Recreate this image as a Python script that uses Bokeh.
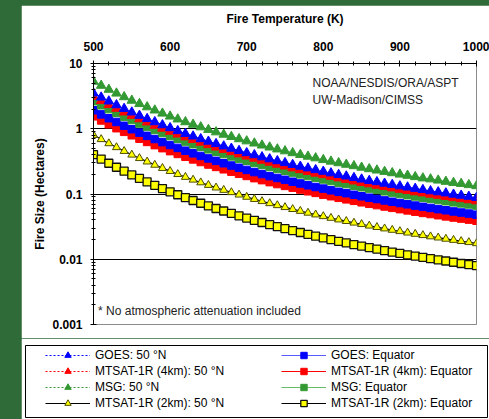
from bokeh.plotting import figure
from bokeh.layouts import row, column
from bokeh.models import (Range1d, SingleIntervalTicker, Legend, LegendItem, Label,
                          CustomJSTickFormatter, Spacer)
from bokeh.embed import file_html
from bokeh.resources import INLINE

# Fire temperature (K)
temps = list(range(500, 1001, 10))

# Minimum detectable fire size (hectares)
goes_50n = [3.50, 3.03, 2.64, 2.31, 2.03, 1.79, 1.59, 1.42, 1.27, 1.14,
            1.03, 0.928, 0.840, 0.767, 0.698, 0.639, 0.587, 0.540, 0.498, 0.460,
            0.426, 0.396, 0.368, 0.343, 0.321, 0.300, 0.281, 0.264, 0.249, 0.234,
            0.221, 0.209, 0.197, 0.187, 0.177, 0.168, 0.160, 0.153, 0.145, 0.139,
            0.132, 0.127, 0.121, 0.116, 0.111, 0.107, 0.103, 0.0984, 0.0949, 0.0914,
            0.0879]
mtsat4_50n = [3.10, 2.68, 2.33, 2.04, 1.79, 1.59, 1.41, 1.26, 1.12, 1.01,
              0.908, 0.822, 0.744, 0.679, 0.618, 0.566, 0.520, 0.478, 0.441, 0.408,
              0.378, 0.351, 0.326, 0.304, 0.284, 0.266, 0.249, 0.234, 0.220, 0.207,
              0.196, 0.185, 0.175, 0.166, 0.157, 0.149, 0.142, 0.135, 0.129, 0.123,
              0.117, 0.112, 0.107, 0.103, 0.0986, 0.0946, 0.0908, 0.0871, 0.0840, 0.0809,
              0.0778]
msg_50n = [5.30, 4.59, 3.99, 3.49, 3.07, 2.71, 2.41, 2.15, 1.92, 1.72,
           1.55, 1.40, 1.27, 1.16, 1.06, 0.968, 0.888, 0.817, 0.754, 0.697,
           0.646, 0.599, 0.558, 0.520, 0.486, 0.455, 0.426, 0.400, 0.376, 0.355,
           0.334, 0.316, 0.299, 0.283, 0.269, 0.255, 0.242, 0.231, 0.220, 0.210,
           0.200, 0.192, 0.183, 0.175, 0.169, 0.162, 0.155, 0.149, 0.144, 0.138,
           0.133]
mtsat2_50n = [0.800, 0.689, 0.596, 0.519, 0.454, 0.399, 0.353, 0.313, 0.279, 0.249,
              0.224, 0.201, 0.182, 0.165, 0.150, 0.137, 0.125, 0.115, 0.106, 0.0974,
              0.0901, 0.0834, 0.0774, 0.0719, 0.0670, 0.0626, 0.0585, 0.0548, 0.0514, 0.0483,
              0.0455, 0.0429, 0.0405, 0.0383, 0.0362, 0.0344, 0.0326, 0.0310, 0.0295, 0.0281,
              0.0268, 0.0255, 0.0244, 0.0233, 0.0223, 0.0214, 0.0205, 0.0197, 0.0189, 0.0182,
              0.0175]
goes_eq = [1.92, 1.66, 1.45, 1.27, 1.11, 0.983, 0.872, 0.778, 0.695, 0.624,
           0.563, 0.509, 0.461, 0.420, 0.383, 0.351, 0.322, 0.296, 0.273, 0.252,
           0.234, 0.217, 0.202, 0.188, 0.176, 0.165, 0.154, 0.145, 0.136, 0.128,
           0.121, 0.114, 0.108, 0.103, 0.0973, 0.0924, 0.0877, 0.0837, 0.0797, 0.0760,
           0.0726, 0.0695, 0.0664, 0.0636, 0.0611, 0.0586, 0.0563, 0.0540, 0.0520, 0.0501,
           0.0482]
mtsat4_eq = [1.55, 1.34, 1.17, 1.02, 0.897, 0.794, 0.704, 0.628, 0.561, 0.504,
             0.454, 0.411, 0.372, 0.339, 0.309, 0.283, 0.260, 0.239, 0.220, 0.204,
             0.189, 0.175, 0.163, 0.152, 0.142, 0.133, 0.125, 0.117, 0.110, 0.104,
             0.0978, 0.0924, 0.0874, 0.0828, 0.0786, 0.0746, 0.0708, 0.0676, 0.0643, 0.0614,
             0.0586, 0.0561, 0.0536, 0.0513, 0.0493, 0.0473, 0.0454, 0.0436, 0.0420, 0.0405,
             0.0389]
msg_eq = [2.65, 2.29, 2.00, 1.75, 1.53, 1.36, 1.20, 1.07, 0.959, 0.861,
          0.776, 0.702, 0.636, 0.580, 0.529, 0.484, 0.444, 0.409, 0.377, 0.348,
          0.323, 0.300, 0.279, 0.260, 0.243, 0.227, 0.213, 0.200, 0.188, 0.177,
          0.167, 0.158, 0.149, 0.142, 0.134, 0.127, 0.121, 0.116, 0.110, 0.105,
          0.100, 0.0959, 0.0917, 0.0877, 0.0843, 0.0808, 0.0776, 0.0745, 0.0718, 0.0692,
          0.0665]
mtsat2_eq = [0.400, 0.343, 0.296, 0.257, 0.224, 0.196, 0.173, 0.153, 0.136, 0.121,
             0.108, 0.0974, 0.0879, 0.0795, 0.0722, 0.0657, 0.0600, 0.0549, 0.0504, 0.0463,
             0.0427, 0.0395, 0.0366, 0.0340, 0.0316, 0.0294, 0.0275, 0.0257, 0.0241, 0.0226,
             0.0212, 0.0200, 0.0188, 0.0178, 0.0168, 0.0159, 0.0151, 0.0143, 0.0136, 0.0129,
             0.0123, 0.0117, 0.0112, 0.0107, 0.0102, 0.0098, 0.0094, 0.0090, 0.0086, 0.0083,
             0.0080]

FONT = "Liberation Sans"
BG = "#2f6b38"
BLUE, RED, GREEN, YELLOW = "#0000ff", "#ff0000", "#339933", "#ffff00"

# style for each series: (line colour, dash, marker, fill, edge, size, edge width)
styles = {
    "GOES: 50 °N": (BLUE, "2 2", "triangle", BLUE, BLUE, 9.5, 1.0),
    "MTSAT-1R (4km): 50 °N": (RED, "2 2", "triangle", RED, RED, 9.5, 1.0),
    "MSG: 50 °N": (GREEN, "2 2", "triangle", GREEN, GREEN, 9.5, 1.0),
    "MTSAT-1R (2km): 50 °N": ("black", "solid", "triangle", YELLOW, "#4d4d00", 8, 1.0),
    "GOES: Equator": ("#5a5aff", "solid", "square", BLUE, BLUE, 7.5, 1.0),
    "MTSAT-1R (4km): Equator": (RED, "solid", "square", RED, RED, 7.5, 1.0),
    "MSG: Equator": ("#66bb66", "solid", "square", GREEN, GREEN, 7.5, 1.0),
    "MTSAT-1R (2km): Equator": ("black", "solid", "square", YELLOW, "#111111", 8, 1.3),
}
data = {
    "GOES: 50 °N": goes_50n, "MTSAT-1R (4km): 50 °N": mtsat4_50n,
    "MSG: 50 °N": msg_50n, "MTSAT-1R (2km): 50 °N": mtsat2_50n,
    "GOES: Equator": goes_eq, "MTSAT-1R (4km): Equator": mtsat4_eq,
    "MSG: Equator": msg_eq, "MTSAT-1R (2km): Equator": mtsat2_eq,
}
draw_order = ["MTSAT-1R (2km): Equator", "MTSAT-1R (2km): 50 °N",
              "MTSAT-1R (4km): Equator", "GOES: Equator", "MSG: Equator",
              "MTSAT-1R (4km): 50 °N", "GOES: 50 °N", "MSG: 50 °N"]

# ---------------- main chart ----------------
p = figure(width=468, height=333, x_range=Range1d(500, 1000), y_range=Range1d(0.001, 10),
           y_axis_type="log", x_axis_location="above",
           output_backend="svg", toolbar_location=None,
           min_border_left=72, min_border_right=13, min_border_top=58, min_border_bottom=14)
p.frame_align = False
p.background_fill_color = "white"
p.border_fill_color = "white"
p.outline_line_color = "#8c8c8c"
p.outline_line_width = 1

xa = p.xaxis[0]
xa.ticker = SingleIntervalTicker(interval=100, num_minor_ticks=5)
xa.axis_label = "Fire Temperature (K)"
ya = p.yaxis[0]
ya.axis_label = "Fire Size (Hectares)"
ya.formatter = CustomJSTickFormatter(code="return parseFloat(tick.toPrecision(3)).toString();")
for ax in (xa, ya):
    ax.axis_line_color = "black"
    ax.axis_line_width = 1
    ax.major_tick_in = 3
    ax.major_tick_out = 3
    ax.minor_tick_in = 2
    ax.minor_tick_out = 2
    ax.major_tick_line_color = "black"
    ax.minor_tick_line_color = "black"
    ax.major_label_text_font = FONT
    ax.major_label_text_font_style = "bold"
    ax.major_label_text_font_size = "12px"
    ax.major_label_text_color = "black"
    ax.axis_label_text_font = FONT
    ax.axis_label_text_font_style = "bold"
    ax.axis_label_text_font_size = "12px"
    ax.axis_label_text_color = "black"
xa.major_label_standoff = 10
xa.axis_label_standoff = 13
ya.major_label_standoff = 8
ya.axis_label_standoff = 2

p.xgrid.visible = False
p.ygrid.grid_line_color = "black"
p.ygrid.grid_line_width = 1

for name in draw_order:
    lc, dash, mk, fc, ec, sz, lw = styles[name]
    vals = data[name]
    p.line(temps, vals, line_color=lc, line_width=1.2, line_dash=dash)
    p.scatter(temps, vals, marker=mk, size=sz, fill_color=fc, line_color=ec, line_width=lw)

for txt, yv in (("NOAA/NESDIS/ORA/ASPT", 5.0), ("UW-Madison/CIMSS", 2.78)):
    p.add_layout(Label(x=786, y=yv, text=txt, text_baseline="middle",
                       text_font=FONT, text_font_size="12px", text_color="#222222"))
p.add_layout(Label(x=506, y=0.0016, text="* No atmospheric attenuation included",
                   text_baseline="middle", text_font=FONT, text_font_size="12px",
                   text_color="#222222"))

# ---------------- legend panel ----------------
lp = figure(width=468, height=81, x_range=Range1d(0, 1), y_range=Range1d(0, 1),
            x_axis_type=None, y_axis_type=None,
            output_backend="svg", toolbar_location=None,
            min_border_left=4, min_border_right=2, min_border_top=7, min_border_bottom=2)
lp.frame_align = False
lp.xgrid.visible = False
lp.ygrid.visible = False
lp.background_fill_color = "white"
lp.border_fill_color = "white"
lp.outline_line_color = "black"
lp.outline_line_width = 1

def legend_items(names):
    items = []
    for name in names:
        lc, dash, mk, fc, ec, sz, lw = styles[name]
        # sample renderers kept outside the visible range: only their legend glyphs show
        rl = lp.line([-5, -4], [-5, -4], line_color=lc, line_width=1.2, line_dash=dash)
        rm = lp.scatter([-5], [-5], marker=mk, size=sz, fill_color=fc, line_color=ec,
                        line_width=lw)
        items.append(LegendItem(label=name, renderers=[rl, rm]))
    return items

def make_legend(names, vx):
    leg = Legend(items=legend_items(names), location=(vx, 6), orientation="vertical",
                 border_line_color=None, background_fill_alpha=0.0,
                 padding=0, spacing=0, margin=0,
                 label_height=16, glyph_height=16, glyph_width=45, label_standoff=5,
                 label_text_font=FONT, label_text_font_size="12px",
                 label_text_color="black")
    lp.add_layout(leg)

make_legend(["GOES: 50 °N", "MTSAT-1R (4km): 50 °N", "MSG: 50 °N",
             "MTSAT-1R (2km): 50 °N"], 20)
make_legend(["GOES: Equator", "MTSAT-1R (4km): Equator", "MSG: Equator",
             "MTSAT-1R (2km): Equator"], 256)

layout = row(Spacer(width=21, height=419),
             column(Spacer(width=468, height=5), p, lp, spacing=0), spacing=0)

html = file_html(layout, INLINE)
html = html.replace("</head>",
                    "<style>html, body { background-color: " + BG + " !important; }</style></head>", 1)
open("out.html", "w").write(html)
